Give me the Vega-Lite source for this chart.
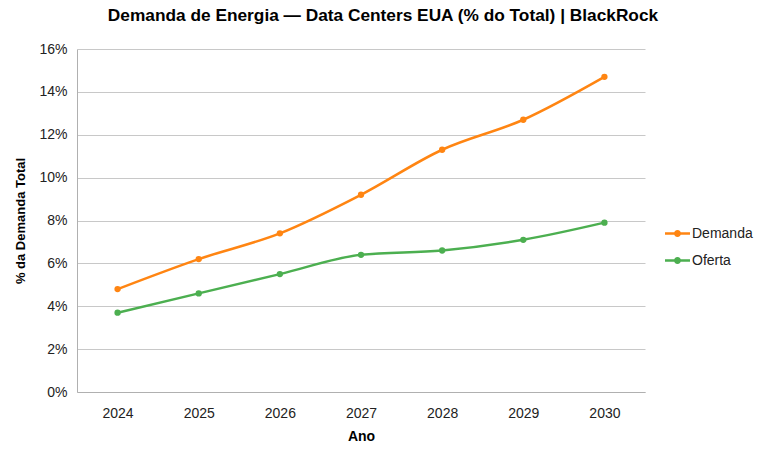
{
  "$schema": "https://vega.github.io/schema/vega-lite/v6.json",
  "width": 568,
  "height": 343,
  "autosize": {"type": "none"},
  "padding": {"left": 77, "top": 49, "right": 123, "bottom": 67},
  "background": "white",
  "title": {
    "text": "Demanda de Energia — Data Centers EUA (% do Total) | BlackRock",
    "font": "Liberation Sans",
    "fontSize": 17.3,
    "fontWeight": "bold",
    "color": "#000000",
    "anchor": "middle",
    "dx": 22,
    "offset": 18
  },
  "config": {
    "view": {"stroke": null},
    "font": "Liberation Sans"
  },
  "data": {
    "values": [
      {"Ano": "2024", "Serie": "Demanda", "Valor": 4.8},
      {"Ano": "2025", "Serie": "Demanda", "Valor": 6.2},
      {"Ano": "2026", "Serie": "Demanda", "Valor": 7.4},
      {"Ano": "2027", "Serie": "Demanda", "Valor": 9.2},
      {"Ano": "2028", "Serie": "Demanda", "Valor": 11.3},
      {"Ano": "2029", "Serie": "Demanda", "Valor": 12.7},
      {"Ano": "2030", "Serie": "Demanda", "Valor": 14.7},
      {"Ano": "2024", "Serie": "Oferta", "Valor": 3.7},
      {"Ano": "2025", "Serie": "Oferta", "Valor": 4.6},
      {"Ano": "2026", "Serie": "Oferta", "Valor": 5.5},
      {"Ano": "2027", "Serie": "Oferta", "Valor": 6.4},
      {"Ano": "2028", "Serie": "Oferta", "Valor": 6.6},
      {"Ano": "2029", "Serie": "Oferta", "Valor": 7.1},
      {"Ano": "2030", "Serie": "Oferta", "Valor": 7.9}
    ]
  },
  "mark": {"type": "line", "interpolate": "monotone", "strokeWidth": 2.5, "point": {"filled": true, "size": 40}},
  "encoding": {
    "x": {
      "field": "Ano",
      "type": "ordinal",
      "scale": {"type": "point", "padding": 0.5},
      "axis": {
        "title": "Ano",
        "titleFontSize": 14,
        "titleFontWeight": "bold",
        "titleColor": "#000000",
        "titlePadding": 9,
        "labelAngle": 0,
        "labelFontSize": 14,
        "labelColor": "#222222",
        "labelPadding": 14,
        "ticks": false,
        "grid": false,
        "domainColor": "#b0b0b0",
        "domainWidth": 1
      }
    },
    "y": {
      "field": "Valor",
      "type": "quantitative",
      "scale": {"domain": [0, 16]},
      "axis": {
        "title": "% da Demanda Total",
        "titleFontSize": 13,
        "titleFontWeight": "bold",
        "titleColor": "#000000",
        "titlePadding": 11,
        "values": [0, 2, 4, 6, 8, 10, 12, 14, 16],
        "labelExpr": "datum.value + '%'",
        "labelFontSize": 14,
        "labelColor": "#222222",
        "labelPadding": 10,
        "ticks": false,
        "gridColor": "#c8c8c8",
        "gridWidth": 1,
        "domainColor": "#b0b0b0",
        "domainWidth": 1
      }
    },
    "color": {
      "field": "Serie",
      "type": "nominal",
      "scale": {"domain": ["Demanda", "Oferta"], "range": ["#ff8512", "#4caf50"]},
      "legend": {
        "title": null,
        "orient": "none",
        "legendX": 588,
        "legendY": 172,
        "labelFontSize": 14,
        "labelColor": "#222222",
        "symbolType": "M-1,-0.1L1,-0.1L1,0.1L-1,0.1Z M0.28,0 A0.28,0.28 0 1,1 -0.28,0 A0.28,0.28 0 1,1 0.28,0Z",
        "symbolSize": 625,
        "symbolStrokeWidth": 0,
        "symbolOpacity": 1,
        "rowPadding": 7,
        "labelOffset": 2
      }
    }
  }
}
